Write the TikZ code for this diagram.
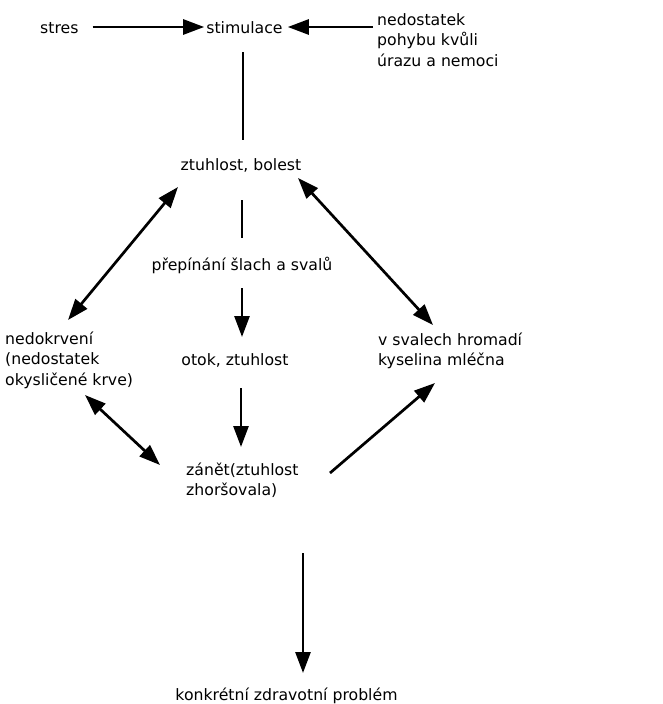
\documentclass[tikz,border=0pt]{standalone}
\usepackage{fontspec}
\setmainfont{DejaVu Sans}
\usetikzlibrary{arrows.meta}
\begin{document}
\begin{tikzpicture}[x=1pt,y=-1pt,
  lbl/.style={inner sep=0pt, font=\fontsize{15.7}{20.5}\selectfont},
  arr/.style={line width=2.7pt, -{Triangle[length=21pt,width=15pt]}},
  darr/.style={line width=2.7pt, {Triangle[length=21pt,width=15pt]}-{Triangle[length=21pt,width=15pt]}},
  ln/.style={line width=2.7pt}]
\useasboundingbox[fill=white] (0,0) rectangle (663,704);
% nodes
\node[lbl, anchor=base west] (stres) at (40,33) {stres};
\node[lbl, anchor=base] (stimulace) at (244.5,33) {stimulace};
\node[lbl, anchor=base west] (nedost) at (377,25) {\begin{tabular}[t]{@{}l@{}}nedostatek\\pohybu kvůli\\úrazu a nemoci\end{tabular}};
\node[lbl, anchor=base] (ztuhlost) at (241,170) {ztuhlost, bolest};
\node[lbl, anchor=base] (prepinani) at (242,270) {přepínání šlach a svalů};
\node[lbl, anchor=base] (otok) at (235,365) {otok, ztuhlost};
\node[lbl, anchor=base west] (nedokrveni) at (5,344) {\begin{tabular}[t]{@{}l@{}}nedokrvení\\(nedostatek\\okysličené krve)\end{tabular}};
\node[lbl, anchor=base west] (vsvalech) at (378,345) {\begin{tabular}[t]{@{}l@{}}v svalech hromadí\\kyselina mléčna\end{tabular}};
\node[lbl, anchor=base west] (zanet) at (186,475) {\begin{tabular}[t]{@{}l@{}}zánět(ztuhlost\\zhoršovala)\end{tabular}};
\node[lbl, anchor=base] (konkretni) at (286.5,700) {konkrétní zdravotní problém};
% connectors
\draw[arr] ([shift={(14,-6)}]stres.base east) -- ([shift={(-2,-6)}]stimulace.base west);
\draw[arr] ([shift={(-4,2)}]nedost.base west) -- ([shift={(5,-6)}]stimulace.base east);
\draw[ln] ([shift={(-1.5,19)}]stimulace.base) -- ([shift={(2,-30)}]ztuhlost.base);
\draw[ln] ([shift={(1,30)}]ztuhlost.base) -- ([shift={(0,-32)}]prepinani.base);
\draw[arr] ([shift={(0,18)}]prepinani.base) -- ([shift={(7,-28)}]otok.base);
\draw[arr] ([shift={(6,23)}]otok.base) -- ([shift={(55,-28)}]zanet.base west);
\draw[arr] ([shift={(117,78)}]zanet.base west) -- ([shift={(16.5,-27)}]konkretni.base);
\draw[darr] ([shift={(-63,17)}]ztuhlost.base) -- ([shift={(63,-24)}]nedokrveni.base west);
\draw[darr] ([shift={(57,8)}]ztuhlost.base) -- ([shift={(55,-20)}]vsvalech.base west);
\draw[darr] ([shift={(80,51)}]nedokrveni.base west) -- ([shift={(-26,-10)}]zanet.base west);
\draw[arr] ([shift={(144,-2)}]zanet.base west) -- ([shift={(57,38)}]vsvalech.base west);
\end{tikzpicture}
\end{document}
